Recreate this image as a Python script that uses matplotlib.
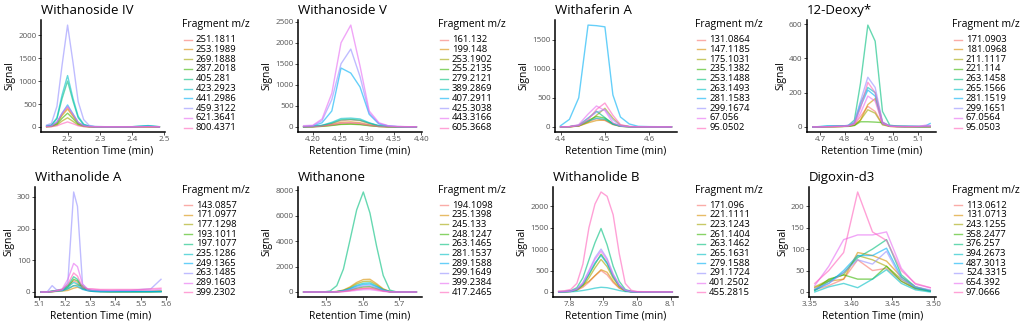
import matplotlib.pyplot as plt
from matplotlib.lines import Line2D

# =========================
# Data
# =========================
hue10 = ["#F8766D", "#D89000", "#A3A500", "#39B600", "#00BF7D",
         "#00BFC4", "#00B0F6", "#9590FF", "#E76BF3", "#FF62BC"]

# --- Withanoside IV
wiv_time = [2.135, 2.150, 2.167, 2.183, 2.200, 2.217, 2.233, 2.250, 2.267,
            2.285, 2.320, 2.360, 2.400, 2.430, 2.450, 2.470, 2.485]
wiv_frag = ["251.1811", "253.1989", "269.1888", "287.2018", "405.281",
            "423.2923", "441.2986", "459.3122", "621.3641", "800.4371"]
wiv_sig = [
    [10, 20, 90, 280, 430, 260, 90, 25, 8, 3, 2, 2, 2, 3, 5, 3, 2],
    [8, 15, 80, 250, 390, 230, 80, 20, 6, 3, 2, 2, 2, 3, 4, 3, 2],
    [5, 10, 40, 130, 200, 120, 40, 10, 4, 2, 2, 2, 2, 2, 3, 2, 2],
    [6, 12, 60, 190, 300, 180, 60, 15, 5, 2, 2, 2, 2, 2, 3, 2, 2],
    [20, 35, 180, 620, 1000, 560, 200, 50, 15, 6, 4, 4, 5, 15, 25, 12, 5],
    [30, 45, 200, 700, 1120, 620, 230, 60, 18, 8, 5, 5, 6, 20, 30, 15, 6],
    [15, 25, 100, 300, 480, 280, 100, 30, 10, 4, 3, 3, 4, 10, 15, 8, 4],
    [40, 80, 450, 1350, 2220, 1400, 550, 160, 35, 10, 5, 5, 5, 8, 12, 8, 5],
    [12, 25, 110, 300, 450, 280, 100, 30, 10, 4, 3, 3, 3, 4, 6, 4, 3],
    [3, 6, 25, 70, 110, 70, 25, 8, 3, 2, 1, 1, 1, 2, 3, 2, 1],
]

# --- Withanoside V
wv_time = [4.183, 4.200, 4.217, 4.235, 4.252, 4.270, 4.287, 4.304, 4.322,
           4.339, 4.356, 4.374, 4.391]
wv_frag = ["161.132", "199.148", "253.1902", "255.2135", "279.2121",
           "389.2869", "407.2911", "425.3038", "443.3166", "605.3668"]
wv_sig = [
    [5, 10, 30, 80, 150, 170, 150, 80, 25, 8, 4, 3, 2],
    [3, 8, 25, 60, 110, 120, 100, 50, 15, 5, 3, 2, 2],
    [2, 5, 15, 40, 70, 80, 65, 35, 10, 4, 2, 2, 1],
    [2, 5, 15, 35, 60, 65, 55, 30, 10, 3, 2, 1, 1],
    [4, 10, 35, 90, 170, 180, 160, 90, 25, 8, 4, 3, 2],
    [5, 12, 40, 110, 200, 210, 190, 100, 30, 10, 5, 3, 2],
    [10, 20, 100, 380, 1400, 1280, 950, 300, 70, 25, 8, 5, 3],
    [15, 30, 150, 650, 1500, 1850, 1200, 330, 80, 25, 10, 5, 3],
    [30, 40, 190, 800, 2000, 2420, 1450, 380, 100, 30, 12, 6, 4],
    [3, 6, 20, 50, 90, 100, 80, 40, 12, 5, 3, 2, 1],
]

# --- Withaferin A
wa_time = [4.400, 4.420, 4.441, 4.462, 4.481, 4.500, 4.518, 4.535, 4.555,
           4.575, 4.600, 4.625, 4.650]
wa_frag = ["131.0864", "147.1185", "175.1031", "235.1382", "253.1488",
           "263.1493", "281.1583", "299.1674", "67.056", "95.0502"]
wa_sig = [
    [0, 3, 20, 90, 140, 110, 40, 10, 3, 1, 0, 0, 0],
    [0, 2, 15, 70, 110, 120, 45, 10, 3, 1, 0, 0, 0],
    [0, 3, 15, 80, 200, 320, 150, 30, 5, 1, 0, 0, 0],
    [0, 3, 20, 110, 180, 150, 60, 15, 4, 1, 0, 0, 0],
    [0, 4, 30, 150, 270, 160, 50, 12, 3, 1, 0, 0, 0],
    [0, 4, 25, 100, 150, 130, 50, 12, 3, 1, 0, 0, 0],
    [20, 130, 500, 1750, 1740, 1720, 550, 170, 50, 10, 5, 3, 2],
    [0, 3, 25, 150, 250, 300, 120, 25, 5, 1, 0, 0, 0],
    [0, 5, 40, 220, 360, 280, 70, 15, 3, 1, 0, 0, 0],
    [0, 3, 20, 120, 300, 410, 200, 40, 8, 2, 0, 0, 0],
]

# --- 12-Deoxy*
dx_time = [4.670, 4.700, 4.730, 4.760, 4.790, 4.815, 4.840, 4.865, 4.895,
           4.925, 4.955, 4.985, 5.015, 5.045, 5.075, 5.105, 5.130, 5.150]
dx_frag = ["171.0903", "181.0968", "211.1117", "221.114", "263.1458",
           "265.1566", "281.1519", "299.1651", "67.0564", "95.0503"]
dx_sig = [
    [0, 0, 1, 2, 3, 5, 15, 60, 120, 90, 15, 3, 2, 2, 1, 1, 1, 1],
    [0, 0, 1, 2, 3, 5, 10, 40, 130, 165, 20, 3, 2, 1, 1, 1, 1, 1],
    [0, 0, 1, 2, 3, 4, 10, 40, 100, 80, 12, 3, 2, 1, 1, 1, 1, 1],
    [0, 0, 1, 1, 2, 3, 8, 30, 30, 28, 25, 5, 2, 1, 1, 1, 1, 1],
    [0, 0, 2, 3, 5, 8, 40, 255, 594, 500, 90, 10, 5, 5, 3, 3, 2, 2],
    [0, 2, 5, 5, 5, 8, 25, 140, 230, 200, 25, 5, 3, 3, 3, 2, 3, 5],
    [0, 2, 5, 5, 4, 6, 20, 120, 215, 180, 20, 5, 3, 2, 3, 2, 5, 20],
    [0, 0, 2, 4, 5, 10, 30, 150, 290, 230, 30, 5, 4, 3, 3, 3, 2, 2],
    [0, 0, 1, 2, 3, 5, 15, 80, 180, 150, 20, 4, 2, 2, 2, 3, 10, 8],
    [0, 0, 1, 2, 3, 5, 20, 110, 260, 200, 25, 4, 2, 2, 2, 2, 3, 3],
]

# --- Withanolide A
wla_time = [5.106, 5.130, 5.150, 5.170, 5.190, 5.212, 5.235, 5.250, 5.270,
            5.290, 5.310, 5.340, 5.380, 5.420, 5.460, 5.500, 5.540, 5.580]
wla_frag = ["143.0857", "171.0977", "177.1298", "193.1011", "197.1077",
            "235.1286", "249.1365", "263.1485", "289.1603", "399.2302"]
wla_sig = [
    [0, 0, 2, 5, 8, 20, 35, 30, 12, 5, 3, 2, 2, 2, 2, 2, 2, 3],
    [0, 0, 1, 2, 3, 5, 12, 15, 10, 5, 2, 1, 1, 1, 1, 1, 1, 1],
    [0, 0, 1, 3, 5, 10, 20, 22, 20, 8, 3, 2, 1, 1, 1, 1, 1, 2],
    [0, 0, 2, 5, 5, 15, 40, 35, 15, 6, 3, 2, 1, 1, 1, 1, 1, 2],
    [0, 0, 3, 5, 8, 20, 48, 40, 15, 8, 4, 2, 2, 2, 2, 2, 2, 2],
    [0, 0, 2, 4, 6, 15, 30, 25, 10, 5, 2, 1, 1, 1, 1, 1, 1, 1],
    [0, 0, 1, 3, 4, 10, 20, 18, 8, 4, 2, 1, 1, 1, 1, 1, 1, 1],
    [0, 0, 20, 5, 5, 30, 315, 270, 25, 6, 5, 4, 4, 5, 5, 8, 10, 40],
    [0, 0, 2, 5, 10, 40, 90, 80, 25, 10, 8, 6, 5, 5, 5, 6, 6, 8],
    [0, 0, 1, 4, 8, 25, 60, 50, 15, 10, 10, 8, 8, 8, 8, 8, 10, 12],
]

# --- Withanone
wn_time = [5.440, 5.458, 5.476, 5.494, 5.512, 5.530, 5.548, 5.566, 5.584,
           5.602, 5.620, 5.638, 5.656, 5.674, 5.692, 5.710, 5.728, 5.746]
wn_frag = ["194.1098", "235.1398", "245.133", "248.1247", "263.1465",
           "281.1537", "289.1588", "299.1649", "399.2384", "417.2465"]
wn_sig = [
    [0, 0, 0, 0, 2, 15, 50, 120, 210, 280, 300, 220, 100, 20, 3, 0, 0, 0],
    [0, 0, 0, 0, 5, 40, 150, 400, 750, 980, 1000, 650, 250, 40, 5, 0, 0, 0],
    [0, 0, 0, 0, 4, 35, 130, 340, 640, 830, 850, 550, 210, 35, 4, 0, 0, 0],
    [0, 0, 0, 0, 2, 15, 60, 160, 300, 400, 420, 280, 100, 15, 2, 0, 0, 0],
    [0, 0, 0, 0, 80, 500, 1800, 4100, 6450, 7850, 6200, 3600, 1300, 150, 10, 0, 0, 0],
    [0, 0, 0, 0, 3, 30, 110, 280, 530, 690, 720, 460, 180, 30, 3, 0, 0, 0],
    [0, 0, 0, 0, 3, 25, 90, 240, 450, 590, 620, 400, 150, 25, 3, 0, 0, 0],
    [0, 0, 0, 0, 2, 20, 70, 190, 360, 480, 500, 320, 120, 20, 2, 0, 0, 0],
    [0, 0, 0, 0, 1, 8, 25, 70, 130, 180, 190, 120, 45, 8, 1, 0, 0, 0],
    [0, 0, 0, 0, 2, 12, 45, 110, 210, 280, 300, 190, 70, 12, 2, 0, 0, 0],
]

# --- Withanolide B
wlb_time = [7.767, 7.785, 7.803, 7.821, 7.839, 7.857, 7.875, 7.893, 7.911,
            7.929, 7.947, 7.965, 7.983, 8.001, 8.030, 8.065, 8.105]
wlb_frag = ["171.096", "221.1111", "223.1243", "261.1404", "263.1462",
            "265.1631", "279.1588", "291.1724", "401.2502", "455.2815"]
wlb_sig = [
    [3, 5, 12, 40, 110, 230, 380, 500, 400, 220, 90, 22, 5, 2, 1, 1, 1],
    [3, 5, 12, 70, 160, 250, 380, 520, 460, 250, 100, 25, 5, 2, 1, 1, 1],
    [4, 7, 15, 45, 140, 330, 560, 760, 590, 320, 130, 30, 7, 2, 1, 1, 1],
    [5, 8, 18, 55, 170, 400, 650, 880, 680, 370, 150, 35, 8, 3, 2, 1, 1],
    [10, 15, 30, 100, 330, 750, 1150, 1480, 1100, 600, 250, 60, 15, 5, 2, 1, 1],
    [1, 2, 5, 15, 35, 60, 90, 110, 100, 70, 35, 10, 3, 1, 1, 0, 0],
    [5, 8, 18, 60, 180, 420, 680, 850, 660, 360, 140, 35, 8, 3, 2, 1, 1],
    [5, 10, 20, 70, 220, 500, 800, 1000, 780, 420, 170, 40, 10, 3, 2, 1, 1],
    [5, 10, 20, 65, 200, 470, 760, 950, 740, 400, 160, 40, 10, 3, 2, 1, 1],
    [20, 30, 60, 200, 650, 1500, 2050, 2330, 2230, 1800, 900, 200, 40, 10, 5, 3, 2],
]

# --- Digoxin-d3
dg_time = [3.356, 3.373, 3.391, 3.408, 3.426, 3.443, 3.461, 3.478, 3.496]
dg_frag = ["113.0612", "131.0713", "243.1255", "358.2477", "376.257",
           "394.2673", "487.3013", "524.3315", "654.392", "97.0666"]
dg_sig = [
    [5, 15, 30, 75, 50, 55, 25, 8, 2],
    [10, 25, 30, 92, 85, 72, 35, 12, 3],
    [12, 28, 40, 85, 75, 60, 30, 10, 2],
    [5, 30, 40, 30, 30, 60, 25, 8, 2],
    [3, 25, 45, 80, 100, 122, 40, 12, 3],
    [0, 12, 20, 10, 30, 52, 20, 5, 0],
    [5, 20, 50, 85, 85, 102, 35, 10, 2],
    [8, 20, 45, 75, 65, 95, 30, 12, 5],
    [15, 60, 122, 133, 133, 140, 55, 18, 10],
    [20, 50, 92, 233, 140, 120, 50, 20, 10],
]

titles = ["Withanoside IV", "Withanoside V", "Withaferin A", "12-Deoxy*",
          "Withanolide A", "Withanone", "Withanolide B", "Digoxin-d3"]
times = [wiv_time, wv_time, wa_time, dx_time, wla_time, wn_time, wlb_time, dg_time]
frags = [wiv_frag, wv_frag, wa_frag, dx_frag, wla_frag, wn_frag, wlb_frag, dg_frag]
signals = [wiv_sig, wv_sig, wa_sig, dx_sig, wla_sig, wn_sig, wlb_sig, dg_sig]

x_ticks = [[2.2, 2.3, 2.4, 2.5], [4.20, 4.25, 4.30, 4.35, 4.40], [4.4, 4.5, 4.6],
           [4.7, 4.8, 4.9, 5.0, 5.1], [5.1, 5.2, 5.3, 5.4, 5.5, 5.6],
           [5.5, 5.6, 5.7], [7.8, 7.9, 8.0, 8.1], [3.35, 3.40, 3.45, 3.50]]
x_fmt = ["%.1f", "%.2f", "%.1f", "%.1f", "%.1f", "%.1f", "%.1f", "%.2f"]
y_ticks = [[0, 500, 1000, 1500, 2000], [0, 500, 1000, 1500, 2000, 2500],
           [0, 500, 1000, 1500], [0, 200, 400, 600], [0, 100, 200, 300],
           [0, 2000, 4000, 6000, 8000], [0, 500, 1000, 1500, 2000],
           [0, 50, 100, 150, 200]]

# =========================
# Layout (pixel boxes: left, right, top, bottom)
# =========================
W, H = 1024, 324
panel_px = [(41, 165, 20, 132), (298, 422, 20, 132), (555, 677, 20, 132), (807, 936, 20, 132),
            (35, 167, 187, 297), (298, 422, 187, 297), (553, 678, 187, 297), (809, 936, 187, 297)]
legend_x = [182, 438, 695, 952]

plt.rcParams["font.family"] = ["Open Sans", "DejaVu Sans"]

fig = plt.figure(figsize=(W / 100, H / 100), dpi=100)

for k in range(8):
    l, r, t, b = panel_px[k]
    ax = fig.add_axes([l / W, 1 - b / H, (r - l) / W, (b - t) / H])

    for i, sig in enumerate(signals[k]):
        ax.plot(times[k], sig, color=hue10[i], linewidth=1.0, alpha=0.6)

    ax.margins(0.05)
    ax.set_xticks(x_ticks[k])
    ax.set_xticklabels([x_fmt[k] % v for v in x_ticks[k]])
    ax.set_yticks(y_ticks[k])

    ax.spines["top"].set_visible(False)
    ax.spines["right"].set_visible(False)
    ax.spines["left"].set_linewidth(1.1)
    ax.spines["bottom"].set_linewidth(1.1)
    ax.tick_params(axis="both", labelsize=5.8, colors="#333333", labelcolor="#555555",
                   length=2, width=0.6, pad=1.2)

    ax.set_title(titles[k], loc="left", fontsize=9.5, pad=4)
    ax.set_xlabel("Retention Time (min)", fontsize=7.5, labelpad=1.5)
    ax.set_ylabel("Signal", fontsize=7.5, labelpad=2)

    # legend drawn as ggplot-style guide on the right
    row = k // 4
    lx = legend_x[k % 4]
    title_y = 25 if row == 0 else 191
    first_y = 39.5 if row == 0 else 205
    step = 9.8 if row == 0 else 9.7
    fig.text(lx / W, 1 - title_y / H, "Fragment m/z", fontsize=7.5,
             ha="left", va="center")
    for i, frag in enumerate(frags[k]):
        yy = 1 - (first_y + i * step) / H
        fig.add_artist(Line2D([(lx + 1.5) / W, (lx + 9.5) / W], [yy, yy],
                              color=hue10[i], linewidth=1.0, alpha=0.6))
        fig.text((lx + 14) / W, yy, frag, fontsize=6.8, ha="left", va="center")

fig.savefig("out.png", dpi=100)
